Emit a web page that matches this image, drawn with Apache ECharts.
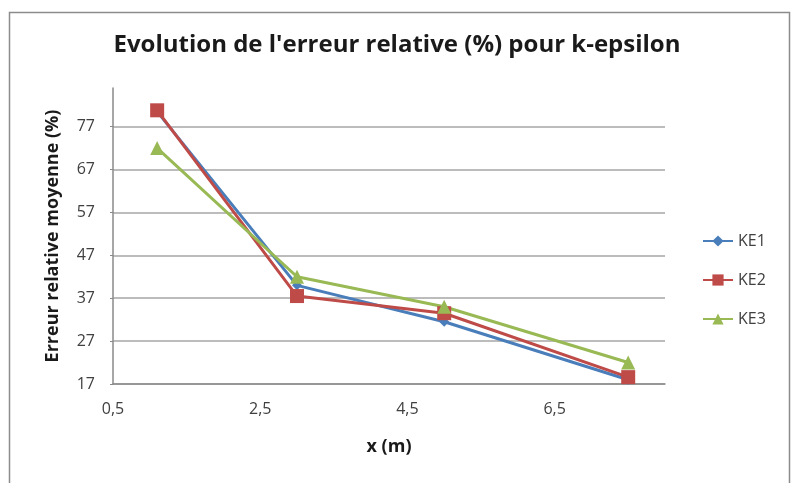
<!DOCTYPE html>
<html>
<head>
<meta charset="utf-8">
<script src="https://cdn.jsdelivr.net/npm/echarts@6/dist/echarts.min.js"></script>
<style>
html,body{margin:0;padding:0;background:#fff;}
#chart{width:794px;height:483px;}
</style>
</head>
<body>
<div id="chart"></div>
<script>
const xValues = [1.1, 3, 5, 7.5];
const ke1 = [80.5, 40, 31.5, 18];
const ke2 = [80.8, 37.5, 33.5, 18.6];
const ke3 = [72, 42, 35, 22];
const yTicks = [17, 27, 37, 47, 57, 67, 77];
const seriesNames = ['KE1', 'KE2', 'KE3'];

const font = '"Open Sans", "Liberation Sans", sans-serif';
const toPairs = (ys) => xValues.map((x, i) => [x, ys[i]]);

const chart = echarts.init(document.getElementById('chart'), null, {renderer: 'canvas'});
chart.setOption({
  animation: false,
  backgroundColor: '#fff',
  graphic: [{
    type: 'rect',
    shape: {x: 9.5, y: 12.5, width: 780, height: 480},
    style: {fill: 'none', stroke: '#8c8c8c', lineWidth: 1.5},
    silent: true
  }],
  title: {
    text: "Evolution de l'erreur relative (%) pour k-epsilon",
    left: 'center',
    top: 28,
    textStyle: {fontFamily: font, fontSize: 24, fontWeight: 'bold', color: '#1a1a1a'}
  },
  grid: {left: 113, right: 129, top: 88, bottom: 99},
  legend: {
    orient: 'vertical',
    left: 697,
    top: 228,
    itemGap: 23,
    itemWidth: 30,
    itemHeight: 14,
    data: seriesNames,
    textStyle: {fontFamily: font, fontSize: 16, color: '#404040', padding: [0, 0, 0, 0]}
  },
  xAxis: {
    type: 'value',
    min: 0.5,
    max: 8,
    interval: 2,
    name: 'x (m)',
    nameLocation: 'middle',
    nameGap: 54,
    nameTextStyle: {fontFamily: font, fontSize: 18, fontWeight: 'bold', color: '#1a1a1a'},
    axisLine: {show: true, lineStyle: {color: '#8a8a8a', width: 1.5}},
    axisTick: {show: false},
    splitLine: {show: false},
    axisLabel: {
      fontFamily: font, fontSize: 16, color: '#404040', margin: 17,
      showMaxLabel: false,
      formatter: (v) => v.toFixed(1).replace('.', ',')
    }
  },
  yAxis: {
    type: 'value',
    min: 17,
    max: 86,
    name: 'Erreur relative moyenne (%)',
    nameLocation: 'middle',
    nameGap: 51,
    nameTextStyle: {fontFamily: font, fontSize: 18, fontWeight: 'bold', color: '#1a1a1a'},
    axisLine: {show: true, lineStyle: {color: '#8a8a8a', width: 1.5}},
    axisTick: {show: true, length: 3, inside: false, customValues: yTicks, lineStyle: {color: '#8a8a8a'}},
    axisLabel: {fontFamily: font, fontSize: 16, color: '#404040', margin: 18, customValues: yTicks},
    splitLine: {show: true, lineStyle: {color: '#a6a6a6', width: 1.5}}
  },
  series: [
    {
      name: 'KE1', type: 'line', data: toPairs(ke1),
      symbol: 'diamond', symbolSize: 10,
      lineStyle: {width: 3, color: '#4a7ebb'},
      itemStyle: {color: '#4a7ebb'}
    },
    {
      name: 'KE2', type: 'line', data: toPairs(ke2),
      symbol: 'rect', symbolSize: 14,
      lineStyle: {width: 3, color: '#be4b48'},
      itemStyle: {color: '#be4b48'}
    },
    {
      name: 'KE3', type: 'line', data: toPairs(ke3),
      symbol: 'triangle', symbolSize: 14,
      lineStyle: {width: 3, color: '#98b954'},
      itemStyle: {color: '#98b954'}
    }
  ]
});
</script>
</body>
</html>
